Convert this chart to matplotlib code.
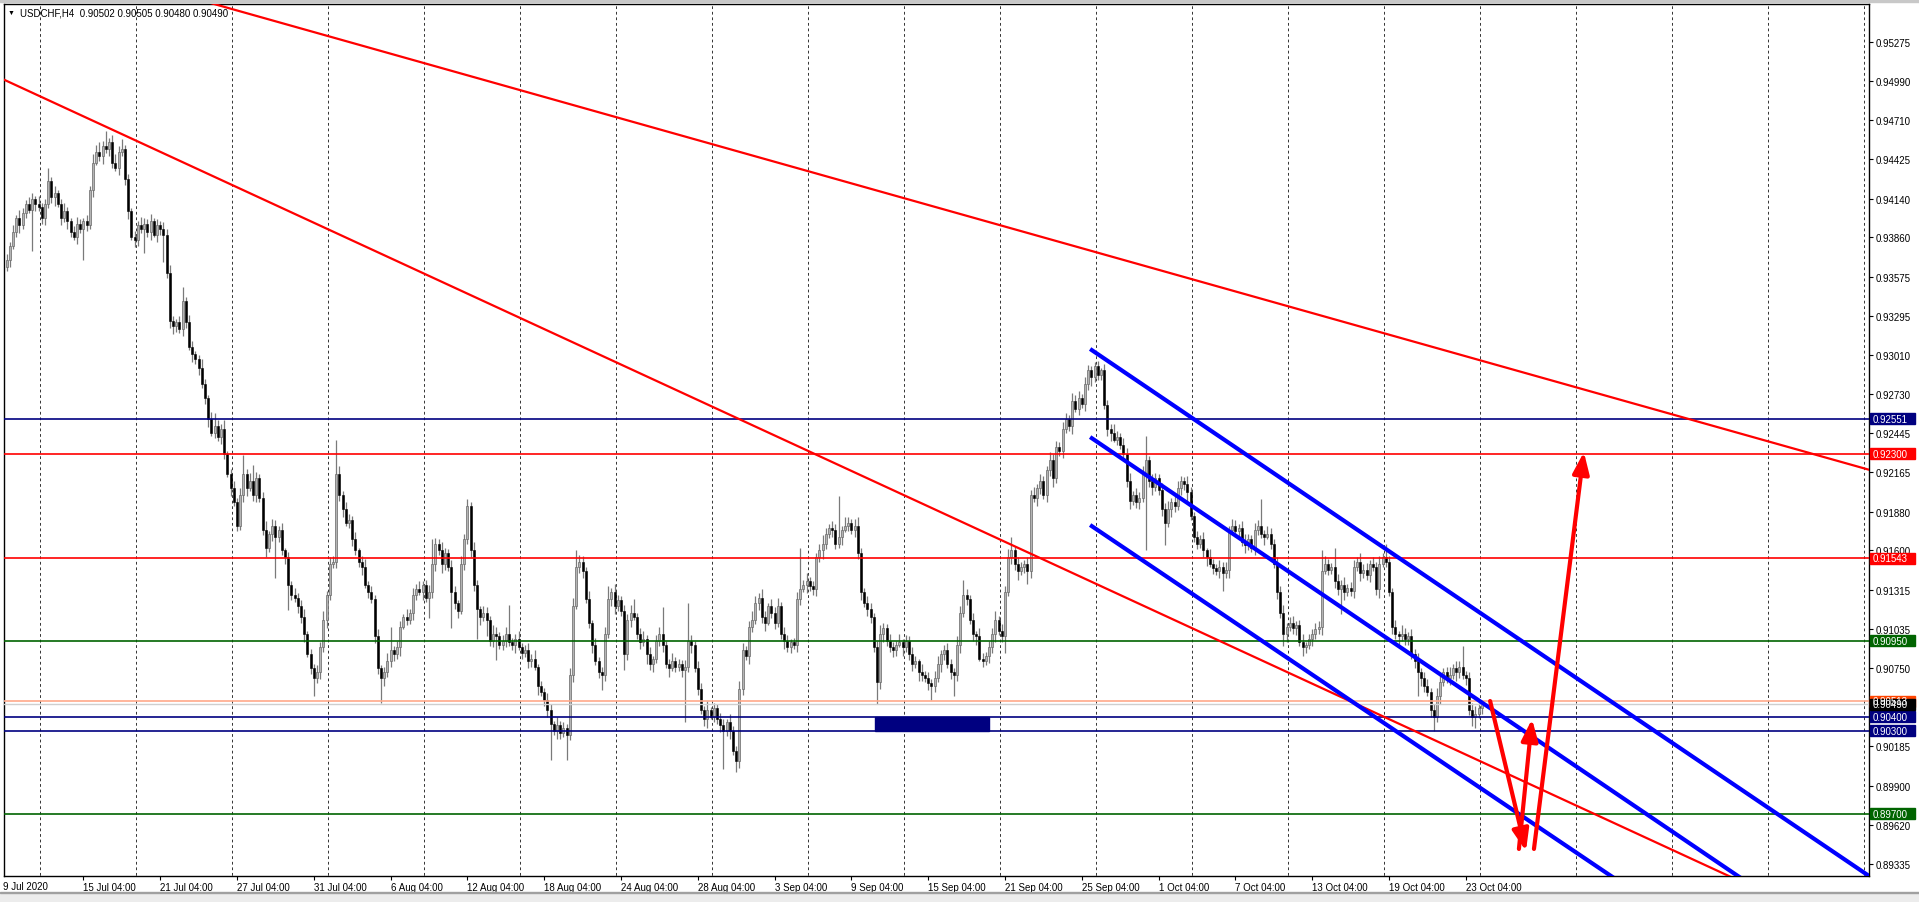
import numpy as np
import matplotlib.pyplot as plt
import matplotlib.transforms as mtransforms
from matplotlib.patches import Rectangle, FancyArrowPatch

plt.rcParams['font.family'] = ['Liberation Sans', 'DejaVu Sans']
plt.rcParams['lines.scale_dashes'] = False

# ---- data (H4 bars, prices in pips: 9049 -> 0.9049) ----
symbol_info = 'USDCHF,H4  0.90502 0.90505 0.90480 0.90490'

first_open = 9365
close_pips = [
    9370, 9380, 9390, 9400, 9395, 9404,
    9410, 9406, 9414, 9410, 9408, 9400,
    9410, 9427, 9415, 9418, 9410, 9400,
    9405, 9398, 9390, 9386, 9396, 9392,
    9398, 9395, 9420, 9440, 9448, 9445,
    9452, 9450, 9455, 9440, 9436, 9448,
    9450, 9428, 9405, 9386, 9384, 9395,
    9392, 9396, 9390, 9398, 9388, 9395,
    9392, 9388, 9360, 9326, 9322, 9325,
    9320, 9340, 9325, 9307, 9302, 9298,
    9292, 9280, 9270, 9255, 9245, 9250,
    9242, 9248, 9230, 9215, 9205, 9195,
    9178, 9200, 9215, 9205, 9210, 9200,
    9212, 9198, 9175, 9162, 9172, 9178,
    9170, 9175, 9160, 9155, 9135, 9128,
    9126, 9120, 9112, 9100, 9085, 9075,
    9068, 9072, 9090, 9110, 9128, 9150,
    9152, 9215, 9200, 9190, 9180, 9182,
    9168, 9160, 9152, 9148, 9135, 9130,
    9125, 9098, 9075, 9068, 9072, 9080,
    9088, 9085, 9090, 9105, 9112, 9110,
    9115, 9128, 9132, 9130, 9135, 9126,
    9130, 9150, 9165, 9160, 9150, 9158,
    9148, 9130, 9122, 9116, 9150, 9168,
    9192, 9160, 9135, 9118, 9112, 9115,
    9110, 9095, 9100, 9098, 9092, 9095,
    9100, 9094, 9092, 9096, 9090, 9086,
    9088, 9080, 9082, 9076, 9062, 9058,
    9052, 9045, 9035, 9030, 9034, 9028,
    9032, 9027, 9070, 9120, 9148, 9152,
    9145, 9125, 9108, 9092, 9080, 9072,
    9070, 9100, 9125, 9130, 9120, 9124,
    9116, 9085, 9110, 9115, 9112, 9100,
    9094, 9096, 9085, 9078, 9082, 9095,
    9100, 9092, 9078, 9075, 9080, 9076,
    9078, 9074, 9076, 9095, 9092, 9075,
    9060, 9045, 9038, 9045, 9040, 9046,
    9038, 9034, 9030, 9036, 9030, 9015,
    9008, 9060, 9088, 9084, 9105, 9110,
    9122, 9126, 9112, 9108, 9120, 9115,
    9108, 9120, 9100, 9095, 9090, 9094,
    9092, 9125, 9132, 9135, 9138, 9134,
    9132, 9155, 9160, 9165, 9172, 9176,
    9175, 9165, 9170, 9175, 9178, 9180,
    9175, 9178, 9158, 9130, 9122, 9118,
    9112, 9090, 9065, 9100, 9104, 9095,
    9090, 9088, 9092, 9094, 9090, 9095,
    9085, 9078, 9080, 9072, 9070, 9068,
    9064, 9062, 9068, 9078, 9085, 9088,
    9078, 9072, 9070, 9092, 9115, 9128,
    9125, 9110, 9100, 9098, 9082, 9080,
    9084, 9090, 9100, 9110, 9102, 9098,
    9130, 9155, 9160, 9150, 9145, 9148,
    9150, 9145, 9200, 9198, 9205, 9210,
    9200, 9218, 9225, 9212, 9235, 9232,
    9248, 9255, 9250, 9268, 9262, 9270,
    9266, 9280, 9290, 9285, 9293, 9287,
    9290, 9265, 9248, 9245, 9240, 9242,
    9236, 9230, 9210, 9196, 9200, 9195,
    9198, 9215, 9225, 9210, 9206, 9212,
    9204, 9190, 9180, 9190, 9195, 9192,
    9205, 9210, 9208, 9202, 9185, 9170,
    9165, 9168, 9160, 9155, 9150, 9147,
    9145, 9148, 9144, 9146, 9175, 9178,
    9174, 9176, 9166, 9164, 9168, 9162,
    9175, 9178, 9172, 9170, 9172, 9165,
    9150, 9130, 9115, 9100, 9105, 9108,
    9104, 9106, 9094, 9090, 9092, 9096,
    9100, 9103, 9105, 9145, 9150, 9146,
    9148, 9138, 9132, 9135, 9130, 9133,
    9131, 9148, 9152, 9144, 9146, 9142,
    9150, 9148, 9132, 9150, 9155, 9152,
    9130, 9105, 9100, 9098, 9100, 9096,
    9098, 9085, 9080, 9072, 9068, 9062,
    9058, 9045, 9040, 9055, 9065, 9072,
    9068, 9070, 9075, 9072, 9076, 9070,
    9068, 9045, 9040, 9042, 9046, 9049,
]
# upper / lower shadow lengths in pips
wick_up = [
    4, 3, 5, 2, 6, 3,  3, 5, 4, 2, 6, 3,  4, 9, 3, 5, 2, 4,  6, 3, 2, 4, 5, 3,
    2, 4, 3, 6, 5, 7,  4, 11, 3, 5, 6, 4,  7, 3, 4, 2, 5, 3,  6, 4, 3, 5, 2, 4,
    3, 5, 4, 6, 3, 2,  4, 10, 3, 5, 4, 2,  3, 6, 4, 2, 5, 9,  4, 3, 6, 2, 4, 5,
    3, 5, 14, 4, 6, 12,  5, 3, 4, 6, 2, 5,  4, 3, 5, 2, 4, 3,  5, 3, 4, 6, 2, 4,
    3, 5, 4, 6, 3, 5,  4, 25, 6, 3, 5, 4,  3, 5, 2, 4, 6, 3,  4, 3, 5, 2, 4, 6,
    17, 3, 5, 4, 2, 6,  3, 5, 4, 6, 3, 4,  5, 18, 4, 3, 6, 4,  3, 5, 4, 2, 6, 4,
    5, 3, 6, 4, 2, 5,  4, 3, 6, 5, 3, 4,  5, 21, 3, 4, 6, 3,  4, 5, 3, 6, 2, 4,
    3, 5, 4, 2, 6, 3,  4, 3, 5, 6, 12, 5,  4, 3, 6, 2, 5, 3,  4, 5, 9, 3, 6, 4,
    3, 5, 4, 6, 10, 3,  4, 6, 3, 5, 2, 4,  5, 19, 3, 4, 6, 3,  4, 3, 5, 27, 4, 3,
    5, 4, 3, 6, 2, 4,  3, 5, 4, 2, 6, 3,  4, 6, 5, 3, 4, 6,  5, 3, 6, 4, 2, 5,
    4, 6, 3, 5, 4, 2,  3, 5, 30, 4, 6, 3,  4, 3, 5, 6, 4, 3,  5, 4, 29, 3, 6, 4,
    3, 5, 6, 4, 3, 5,  4, 3, 5, 6, 4, 3,  5, 4, 3, 6, 2, 4,  3, 5, 4, 2, 6, 3,
    4, 3, 5, 6, 3, 4,  5, 4, 3, 6, 5, 11,  4, 3, 5, 2, 6, 4,  3, 5, 4, 6, 3, 5,
    4, 6, 10, 3, 5, 4,  3, 5, 4, 6, 3, 5,  4, 3, 6, 5, 4, 3,  5, 4, 3, 6, 4, 5,
    3, 5, 4, 3, 3, 4,  2, 5, 4, 3, 6, 4,  3, 5, 4, 6, 3, 5,  4, 6, 18, 3, 5, 4,
    3, 5, 4, 6, 3, 4,  5, 4, 3, 6, 4, 3,  4, 3, 5, 2, 6, 4,  3, 5, 4, 6, 3, 5,
    4, 3, 5, 6, 4, 3,  5, 4, 19, 3, 6, 4,  3, 5, 4, 6, 3, 4,  5, 3, 4, 6, 2, 4,
    3, 5, 4, 15, 6, 4,  3, 14, 5, 4, 6, 3,  4, 5, 3, 6, 4, 5,  3, 5, 4, 6, 3, 10,
    4, 3, 5, 2, 6, 4,  3, 5, 4, 6, 3, 4,  5, 3, 4, 6, 5, 3,  4, 6, 3, 5, 4, 15,
    3, 4, 5, 6, 4, 3,
]
wick_dn = [
    3, 5, 2, 4, 6, 3,  4, 2, 30, 5, 3, 4,  5, 3, 4, 6, 2, 5,  3, 6, 4, 2, 5, 3,
    22, 4, 3, 5, 2, 4,  6, 3, 5, 4, 2, 5,  3, 4, 6, 2, 5, 4,  3, 17, 4, 6, 2, 5,
    4, 20, 3, 5, 6, 4,  3, 5, 4, 2, 6, 3,  5, 3, 4, 6, 2, 4,  3, 5, 4, 2, 6, 3,
    4, 3, 5, 6, 2, 4,  5, 3, 4, 7, 3, 5,  30, 4, 3, 5, 18, 4,  3, 5, 4, 6, 2, 4,
    13, 4, 5, 3, 6, 4,  3, 5, 4, 6, 2, 4,  5, 3, 4, 6, 2, 4,  3, 5, 4, 18, 6, 3,
    4, 5, 3, 6, 2, 4,  3, 5, 4, 2, 6, 3,  15, 4, 5, 3, 6, 4,  3, 26, 4, 5, 2, 4,
    3, 5, 4, 22, 6, 3,  12, 4, 5, 17, 3, 4,  5, 3, 4, 6, 2, 4,  3, 5, 4, 2, 6, 3,
    4, 5, 26, 3, 6, 4,  3, 18, 4, 5, 2, 4,  5, 3, 4, 6, 3, 4,  11, 4, 3, 5, 6, 4,
    3, 11, 4, 5, 2, 4,  5, 3, 7, 4, 6, 3,  4, 5, 3, 6, 2, 4,  3, 5, 38, 4, 6, 3,
    4, 3, 5, 6, 2, 4,  3, 5, 28, 4, 6, 3,  8, 5, 4, 3, 6, 4,  3, 5, 4, 6, 2, 4,
    5, 3, 4, 6, 3, 4,  3, 5, 4, 2, 6, 3,  4, 5, 3, 6, 4, 3,  5, 4, 3, 6, 2, 4,
    3, 5, 4, 6, 3, 5,  4, 3, 16, 5, 6, 4,  3, 5, 4, 2, 6, 3,  4, 5, 3, 6, 4, 3,
    5, 10, 4, 3, 6, 4,  3, 5, 15, 4, 6, 3,  4, 3, 5, 6, 2, 4,  3, 5, 4, 6, 3, 4,
    12, 3, 5, 4, 6, 3,  4, 9, 5, 3, 6, 4,  3, 5, 4, 6, 3, 4,  5, 3, 4, 6, 2, 4,
    3, 5, 4, 6, 3, 4,  4, 3, 5, 6, 2, 4,  3, 5, 4, 6, 3, 4,  5, 3, 55, 4, 6, 3,
    4, 5, 16, 3, 6, 4,  3, 5, 4, 6, 3, 4,  4, 3, 5, 6, 2, 4,  3, 5, 13, 4, 6, 3,
    4, 5, 3, 6, 4, 3,  5, 4, 3, 6, 2, 4,  3, 5, 4, 9, 6, 3,  4, 5, 3, 6, 4, 3,
    5, 4, 3, 6, 2, 4,  3, 5, 4, 18, 6, 3,  4, 5, 3, 6, 4, 3,  5, 3, 4, 6, 2, 4,
    3, 5, 4, 6, 3, 4,  4, 3, 5, 17, 6, 4,  3, 5, 10, 4, 6, 3,  4, 5, 3, 6, 4, 3,
    5, 4, 7, 8, 3, 4,
]

first_time_label = '9 Jul 2020'
time_labels = ['15 Jul 04:00', '21 Jul 04:00', '27 Jul 04:00', '31 Jul 04:00',
               '6 Aug 04:00', '12 Aug 04:00', '18 Aug 04:00', '24 Aug 04:00',
               '28 Aug 04:00', '3 Sep 04:00', '9 Sep 04:00', '15 Sep 04:00',
               '21 Sep 04:00', '25 Sep 04:00', '1 Oct 04:00', '7 Oct 04:00',
               '13 Oct 04:00', '19 Oct 04:00', '23 Oct 04:00']
bars_per_label = 24          # 4 trading days of H4 bars
grid_first, grid_step = 10.56, 30

price_ticks = [0.95275, 0.94990, 0.94710, 0.94425, 0.94140, 0.93860, 0.93575,
               0.93295, 0.93010, 0.92730, 0.92445, 0.92165, 0.91880, 0.91600,
               0.91315, 0.91035, 0.90750, 0.90185, 0.89900, 0.89620, 0.89335]

levels = [0.92551, 0.92300, 0.91543, 0.90950, 0.90400, 0.90300, 0.89700]
level_colors = ['#000080', '#ff0000', '#ff0000', '#006400',
                '#000080', '#000080', '#006400']
ask_price, bid_price = 0.90513, 0.90490

# trend lines as (bar, price) anchor pairs
red_trends = [((64.5, 0.95548), (582.0, 0.92183)),
              ((25.1, 0.94723), (404.2, 0.90679))]
blue_channel = [((338.6, 0.93055), (582.0, 0.89250)),
                ((338.6, 0.92419), (491.7, 0.90022)),
                ((338.6, 0.91784), (456.4, 0.89950))]
zone = (271.4, 307.0, 0.90300, 0.90400)   # bar from, bar to, low, high
arrows = [((463.6, 0.90513), (474.8, 0.89430)),
          ((472.6, 0.89445), (476.7, 0.90383)),
          ((477.3, 0.89445), (492.9, 0.92311))]

# ---- figure ----
W, H = 1919, 903
fig = plt.figure(figsize=(W / 100, H / 100), dpi=100, facecolor='white')
ax = fig.add_axes([4 / W, 1 - 877 / H, 1865 / W, 872 / H])
ax.set_xlim(-0.81, 582.0)
ax.set_ylim(0.892497, 0.955458)

# candles
c = np.array(close_pips, float) / 1e4
o = np.r_[first_open / 1e4, c[:-1]]
hi = np.maximum(o, c) + np.array(wick_up) / 1e4
lo = np.minimum(o, c) - np.array(wick_dn) / 1e4
x = np.arange(len(c))
bull = c >= o
body = np.maximum(np.abs(c - o), 0.00003)
ax.vlines(x, lo, hi, colors='#7a7a7a', lw=0.9, zorder=2)
ax.bar(x[bull], body[bull], bottom=np.minimum(o, c)[bull], width=0.62,
       color='#b4b4b4', edgecolor='#6a6a6a', linewidth=0.5, zorder=3)
ax.bar(x[~bull], body[~bull], bottom=np.minimum(o, c)[~bull], width=0.62,
       color='black', edgecolor='black', linewidth=0.4, zorder=3)

# vertical grid
gx = np.arange(grid_first, 582, grid_step)
ax.vlines(gx, 0.85, 1.0, colors='#333333', lw=0.7, linestyles=(0, (2, 2)), zorder=1)

# horizontal levels, bid / ask
for lvl, col in zip(levels, level_colors):
    ax.axhline(lvl, color=col, lw=1.2, zorder=5)
ax.axhline(ask_price, color='#ffa98a', lw=1.2, zorder=4)
ax.axhline(bid_price, color='#cfcfcf', lw=1.0, zorder=4)

ax.add_patch(Rectangle((zone[0], zone[2]), zone[1] - zone[0], zone[3] - zone[2],
                       color='#000080', zorder=4))

xs = np.array([-10, 600])
for (x1, p1), (x2, p2) in red_trends:
    k = (p2 - p1) / (x2 - x1)
    ax.plot(xs, p1 + k * (xs - x1), color='#ff0000', lw=1.6, zorder=6)
for (x1, p1), (x2, p2) in blue_channel:
    k = (p2 - p1) / (x2 - x1)
    xe = np.array([x1, 600])
    ax.plot(xe, p1 + k * (xe - x1), color='#0000ff', lw=3.0, zorder=6,
            solid_capstyle='butt')

for a, b in arrows:
    ax.add_patch(FancyArrowPatch(a, b, arrowstyle='-|>,head_length=1.3,head_width=0.5',
                                 mutation_scale=10, color='#ff0000', lw=3.0,
                                 shrinkA=0, shrinkB=0, zorder=7))

# axes styling
for s in ax.spines.values():
    s.set_color('black')
    s.set_linewidth(1.0)
ax.yaxis.tick_right()
ax.set_yticks(price_ticks)
ax.set_yticklabels([f'{p:.5f}' for p in price_ticks])
ax.tick_params(axis='y', direction='out', length=3, pad=1.5, labelsize=7,
               colors='black')
ax.set_xticks([bars_per_label * (i + 1) for i in range(len(time_labels))])
ax.set_xticklabels(time_labels)
for t in ax.get_xticklabels():
    t.set_ha('left')
ax.tick_params(axis='x', direction='out', length=3, pad=1.5, labelsize=7,
               colors='black')
fig.text(3 / W, 1 - 887 / H, first_time_label, fontsize=7, va='center')

# price tags on the right scale
trans = mtransforms.blended_transform_factory(fig.transFigure, ax.transData)
hbox = 11 / 13850
tags = list(zip(levels, level_colors)) + [(ask_price, '#ff4500'), (bid_price, 'black')]
for lvl, col in tags:
    ax.add_patch(Rectangle((1870 / W, lvl - hbox / 2), 45 / W, hbox, color=col,
                           transform=trans, clip_on=False, zorder=10))
    ax.text(1873 / W, lvl, f'{lvl:.5f}', color='white', fontsize=7, va='center',
            transform=trans, clip_on=False, zorder=11)

# header and window frame
fig.text(8 / W, 1 - 13 / H, '\u25bc', fontsize=5, va='center')
fig.text(20 / W, 1 - 13 / H, symbol_info, fontsize=7, va='center')
fig.add_artist(Rectangle((0, 1 - 3 / H), 1, 3 / H, color='#c8c8c8',
                         transform=fig.transFigure))
fig.add_artist(Rectangle((0, 0), 1, 9 / H, color='#ececec',
                         transform=fig.transFigure))
fig.add_artist(Rectangle((0, 9 / H), 1, 1.2 / H, color='#a0a0a0',
                         transform=fig.transFigure))

fig.savefig('out.png', dpi=100, facecolor='white')
